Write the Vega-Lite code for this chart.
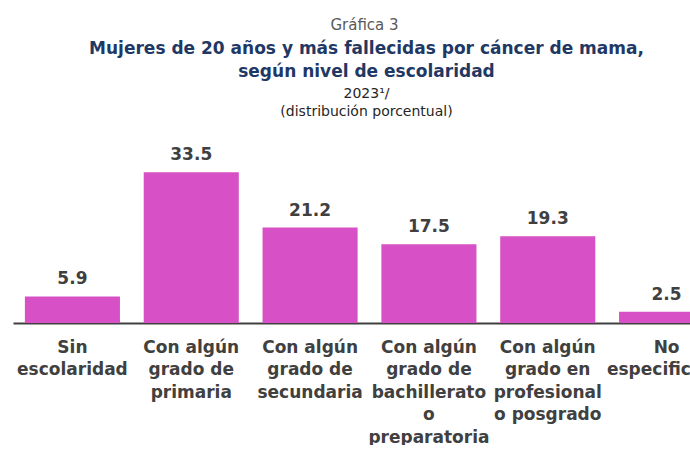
{
  "$schema": "https://vega.github.io/schema/vega-lite/v6.json",
  "padding": {"left": 13, "right": -36, "top": 17, "bottom": 0},
  "config": {"view": {"stroke": null}, "font": "DejaVu Sans", "concat": {"spacing": 0}},
  "title": {"text": "Gráfica 3", "font": "DejaVu Sans", "fontSize": 15, "fontWeight": "normal", "color": "#595959", "anchor": "middle", "dx": -5, "offset": 7},
  "vconcat": [
    {
      "width": 713,
      "height": 180,
      "title": {
        "text": ["Mujeres de 20 años y más fallecidas por cáncer de mama,", "según nivel de escolaridad"],
        "subtitle": ["2023¹/", "(distribución porcentual)"],
        "font": "DejaVu Sans",
        "subtitleFont": "DejaVu Sans",
        "fontSize": 17,
        "fontWeight": "bold",
        "color": "#1F3864",
        "lineHeight": 23,
        "subtitleFontSize": 14,
        "subtitleColor": "#262626",
        "subtitleLineHeight": 18.5,
        "subtitlePadding": 6,
        "anchor": "middle",
        "dx": -3,
        "offset": 23
      },
      "data": {
        "values": [
          {"nivel": "Sin|escolaridad", "pct": 5.9},
          {"nivel": "Con algún|grado de|primaria", "pct": 33.5},
          {"nivel": "Con algún|grado de|secundaria", "pct": 21.2},
          {"nivel": "Con algún|grado de|bachillerato|o|preparatoria", "pct": 17.5},
          {"nivel": "Con algún|grado en|profesional|o posgrado", "pct": 19.3},
          {"nivel": "No|especificado", "pct": 2.5}
        ]
      },
      "encoding": {
        "x": {
          "field": "nivel",
          "type": "nominal",
          "sort": null,
          "scale": {"paddingInner": 0.2, "paddingOuter": 0.1},
          "axis": {
            "title": null,
            "domainColor": "#404040",
            "domainWidth": 2,
            "ticks": false,
            "labelAngle": 0,
            "labelFont": "DejaVu Sans",
            "labelFontSize": 17,
            "labelFontWeight": "bold",
            "labelColor": "#404040",
            "labelLineHeight": 22.5,
            "labelPadding": 16,
            "labelBaseline": "top",
            "labelLimit": 0,
            "labelOverlap": false,
            "labelBound": false,
            "labelExpr": "split(datum.label, '|')"
          }
        },
        "y": {
          "field": "pct",
          "type": "quantitative",
          "scale": {"domain": [0, 40], "nice": false},
          "axis": null
        }
      },
      "layer": [
        {"mark": {"type": "bar", "color": "#D750C5"}},
        {
          "mark": {"type": "text", "dy": -12, "font": "DejaVu Sans", "fontSize": 17, "fontWeight": "bold", "color": "#404040", "baseline": "alphabetic"},
          "encoding": {"text": {"field": "pct", "type": "quantitative", "format": ".1f"}}
        }
      ]
    }
  ]
}
